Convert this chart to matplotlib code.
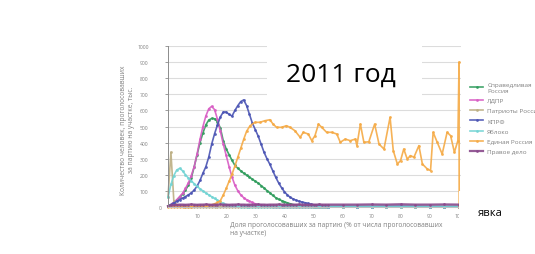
import matplotlib
matplotlib.use('Agg')
import matplotlib.pyplot as plt
from matplotlib.patches import Rectangle

# share of votes for the party at a polling station, %
x_left = list(range(0, 56))
x_tail = [60, 65, 70, 75, 80, 85, 90, 95, 100]

# number of polling stations
sr_left = [5, 15, 28, 42, 60, 80, 105, 135, 180, 250, 325, 400, 460, 510, 540, 550,
           548, 530, 490, 410, 360, 325, 290, 258, 240, 225, 210, 198, 186, 172, 160,
           148, 133, 118, 102, 88, 72, 58, 48, 40, 33, 26, 20, 15, 11, 8, 6, 5, 4, 4,
           3, 3, 3, 3, 3, 3]
sr_tail = [3, 3, 2, 2, 2, 2, 2, 2, 2]

ldpr_left = [5, 15, 30, 45, 65, 85, 115, 150, 195, 250, 330, 420, 500, 565, 610, 625,
             605, 545, 470, 390, 320, 250, 185, 135, 100, 75, 58, 45, 36, 28, 20, 14,
             10, 7, 5, 4, 3, 3, 3, 3, 3, 3, 3, 3, 3, 3, 3, 3, 3, 3, 3, 3, 3, 3, 3, 3]
ldpr_tail = [3, 3, 3, 2, 2, 2, 2, 2, 2]

patr_left = [60, 340, 40, 12, 6, 4, 3, 3, 3, 3, 3, 3, 3, 3, 3, 3, 3, 3, 3, 3, 3, 3, 3,
             3, 3, 3, 3, 3, 3, 3, 3, 3, 3, 3, 3, 3, 3, 3, 3, 3, 3, 3, 3, 3, 3, 3, 3, 3,
             3, 3, 3, 3, 3, 3, 3, 3]
patr_tail = [3, 3, 3, 3, 3, 3, 3, 3, 3]

kprf_left = [5, 15, 25, 35, 45, 55, 65, 75, 88, 105, 130, 165, 210, 250, 310, 390, 455,
             510, 560, 590, 590, 575, 565, 600, 630, 655, 665, 630, 575, 520, 480, 440,
             390, 340, 300, 265, 225, 185, 150, 120, 95, 75, 60, 50, 42, 36, 31, 27, 23,
             18, 14, 10, 7, 5, 4, 3]
kprf_tail = [4, 3, 3, 4, 5, 4, 3, 3, 3]

yab_left = [60, 140, 195, 230, 240, 225, 200, 180, 162, 145, 128, 113, 100, 87, 75, 64,
            53, 42, 31, 22, 15, 10, 7, 5, 4, 3, 3, 3, 3, 3, 3, 3, 3, 3, 3, 3, 3, 3, 3,
            3, 3, 3, 3, 3, 3, 3, 3, 3, 3, 3, 3, 3, 3, 3, 3, 3]
yab_tail = [3, 3, 3, 3, 3, 3, 3, 3, 3]

pd_left = [5, 10, 12, 14, 15, 15, 14, 15, 16, 15, 14, 15, 15, 16, 15, 14, 15, 15, 16, 15,
           15, 14, 15, 15, 16, 15, 15, 14, 15, 15, 15, 16, 15, 15, 14, 15, 15, 15, 16, 15,
           15, 14, 15, 15, 15, 16, 15, 15, 14, 15, 15, 15, 16, 15, 15, 15]
pd_tail = [15, 15, 16, 15, 17, 15, 15, 16, 15]

er_x = [0, 1, 2, 3, 4, 5, 6, 7, 8, 9, 10, 11, 12, 13, 14, 15, 16, 17, 18, 19, 20, 21,
        22, 23, 24, 25, 26, 27, 28.2, 29.9, 31.6, 33.3, 35.0, 36.1, 37.3, 39.0, 40.7,
        41.9, 43.6, 45.4, 46.5, 48.2, 49.4, 50.5, 51.7, 52.8, 54.5, 56.3, 58.0, 59.2,
        60.9, 62.6, 64.4, 64.9, 66.1, 67.3, 69.0, 71.0, 72.5, 74.2, 76.3, 77.4, 78.8,
        79.9, 81.0, 82.2, 83.3, 84.5, 86.2, 87.4, 89.1, 90.2, 91.1, 92.5, 94.2, 95.9,
        97.1, 98.4, 99.6, 100.0, 100.05]
er_y = [3, 3, 3, 3, 3, 3, 3, 3, 3, 4, 4, 5, 6, 8, 10, 14, 20, 28, 40, 75, 115, 160,
        205, 255, 310, 365, 420, 470, 505, 526, 526, 536, 542, 515, 495, 495, 505,
        495, 474, 433, 464, 453, 412, 443, 515, 495, 464, 464, 453, 402,
        422, 412, 422, 381, 515, 402, 405, 515, 391, 360, 557, 350, 267,
        288, 360, 298, 319, 309, 381, 267, 236, 226, 464, 402, 329, 464,
        443, 340, 412, 900, 0]

parties = ['Справедливая\nРоссия', 'ЛДПР', 'Патриоты России', 'КПРФ', 'Яблоко',
           'Единая Россия', 'Правое дело']
colors = ['#2f9c5c', '#d85cc4', '#bcae82', '#4953b3', '#72d4d4', '#f5aa45', '#8a4a8c']

y_ticks = [100, 200, 300, 400, 500, 600, 700, 800, 900, 1000]
x_ticks = [10, 20, 30, 40, 50, 60, 70, 80, 90, 100]

plt.rcParams['font.family'] = ['Open Sans', 'DejaVu Sans']

fig = plt.figure(figsize=(5.35, 2.55), dpi=100)
ax = fig.add_axes([168 / 535, 1 - 208 / 255, 292.5 / 535, 161 / 255])

series = [
    (x_left + x_tail, sr_left + sr_tail),
    (x_left + x_tail, ldpr_left + ldpr_tail),
    (x_left + x_tail, patr_left + patr_tail),
    (x_left + x_tail, kprf_left + kprf_tail),
    (x_left + x_tail, yab_left + yab_tail),
    (er_x, er_y),
    (x_left + x_tail, pd_left + pd_tail),
]
for (xs, ys), name, c in zip(series, parties, colors):
    lw = 1.6 if name == 'Правое дело' else 1.2
    ax.plot(xs, ys, color=c, linewidth=lw, marker='o', markersize=2.0,
            markeredgewidth=0, alpha=0.9, label=name, clip_on=False)

ax.set_xlim(0, 100.5)
ax.set_ylim(0, 1000)
ax.set_yticks(y_ticks)
ax.set_xticks(x_ticks)
ax.grid(axis='y', color='#dcdcdc', linewidth=0.8)
ax.set_axisbelow(True)
for s in ['top', 'right']:
    ax.spines[s].set_visible(False)
ax.spines['left'].set_color('#8c8c8c')
ax.spines['left'].set_linewidth(0.7)
ax.spines['bottom'].set_color('#bfbfbf')
ax.tick_params(axis='y', labelsize=3.6, labelcolor='#808080', color='#8c8c8c',
               length=2, width=0.6, pad=12)
ax.tick_params(axis='x', labelsize=3.6, labelcolor='#808080', length=0, pad=4)
fig.text(160 / 535, 1 - 209 / 255, '0', fontsize=3.6, color='#808080',
         ha='center', va='center')

fig.text(127.5 / 535, 1 - 130 / 255,
         'Количество человек, проголосовавших\nза партию на участке, тыс.',
         rotation=90, fontsize=4.8, color='#808080', ha='center', va='center',
         multialignment='center', linespacing=1.1)
fig.text(230 / 535, 1 - 222 / 255,
         'Доля проголосовавших за партию (% от числа проголосовавших\nна участке)',
         fontsize=4.8, color='#808080', ha='left', va='top', linespacing=1.15)

leg = ax.legend(loc='upper left', bbox_to_anchor=(470 / 535, 1 - 83 / 255),
                bbox_transform=fig.transFigure, frameon=False, fontsize=4.6,
                handlelength=2.1, handletextpad=0.6, labelspacing=0.75,
                borderpad=0, borderaxespad=0)
for t in leg.get_texts():
    t.set_color('#808080')

# white patches laid over the chart, with the captions on them
fig.add_artist(Rectangle((267 / 535, 1 - 103 / 255), 155 / 535, 61 / 255,
                         transform=fig.transFigure, facecolor='white',
                         edgecolor='none', zorder=5))
fig.add_artist(Rectangle((459 / 535, 0), 76 / 535, 1 - 192 / 255,
                         transform=fig.transFigure, facecolor='white',
                         edgecolor='none', zorder=5))
fig.text(341 / 535, 1 - 75 / 255, '2011 год', fontsize=19, color='black',
         ha='center', va='center', zorder=6)
fig.text(490 / 535, 1 - 213 / 255, 'явка', fontsize=8, color='black',
         ha='center', va='center', zorder=6)

fig.savefig('out.png', dpi=100)
